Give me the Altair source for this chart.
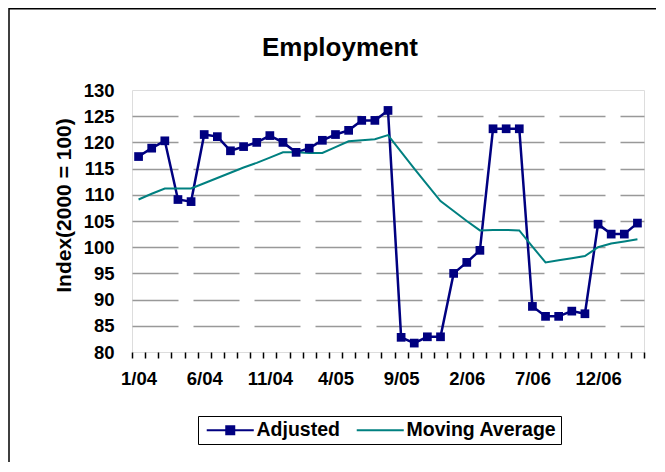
import altair as alt
import pandas as pd

FONT = "Liberation Sans"

chart_title = "Employment"
y_title = "Index(2000 = 100)"
months = ["1/04", "2/04", "3/04", "4/04", "5/04", "6/04", "7/04", "8/04", "9/04", "10/04", "11/04", "12/04",
          "1/05", "2/05", "3/05", "4/05", "5/05", "6/05", "7/05", "8/05", "9/05", "10/05", "11/05", "12/05",
          "1/06", "2/06", "3/06", "4/06", "5/06", "6/06", "7/06", "8/06", "9/06", "10/06", "11/06", "12/06",
          "1/07", "2/07", "3/07"]
shown_labels = ["1/04", "6/04", "11/04", "4/05", "9/05", "2/06", "7/06", "12/06"]

adjusted = [117.3, 118.9, 120.3, 109.1, 108.7, 121.5, 121.1, 118.4, 119.2, 120.0,
            121.3, 120.0, 118.1, 118.9, 120.4, 121.5, 122.3, 124.2, 124.2, 126.1,
            82.8, 81.7, 82.9, 82.9, 95.0, 97.1, 99.4, 122.6, 122.6, 122.6,
            88.7, 86.8, 86.8, 87.8, 87.3, 104.4, 102.5, 102.5, 104.6]
moving_avg = [109.1, 110.2, 111.2, 111.2, 111.2, 112.2, 113.2, 114.2, 115.2, 116.1,
              117.1, 118.1, 118.1, 118.0, 118.0, 119.1, 120.2, 120.4, 120.6, 121.4,
              118.2, 115.0, 111.9, 108.8, 106.9, 105.0, 103.2, 103.3, 103.3, 103.2,
              100.1, 97.1, 97.5, 97.9, 98.3, 100.0, 100.7, 101.1, 101.5]
series_names = ["Adjusted", "Moving Average"]
series_colors = ["#000080", "#008080"]
y_ticks = [80, 85, 90, 95, 100, 105, 110, 115, 120, 125, 130]

df = pd.DataFrame({
    "month": months * 2,
    "series": [series_names[0]] * len(months) + [series_names[1]] * len(months),
    "value": adjusted + moving_avg,
})

label_list = "[" + ",".join("'%s'" % s for s in shown_labels) + "]"

x_enc = alt.X(
    "month:O", sort=months,
    scale=alt.Scale(paddingInner=0, paddingOuter=0),
    axis=alt.Axis(
        title=None, labelAngle=0, labelOverlap=False,
        labelExpr="indexof(%s, datum.value) >= 0 ? datum.value : ''" % label_list,
        tickBand="extent", tickSize=6, tickColor="black", tickWidth=1.5,
        labelFont=FONT, labelFontSize=18.5, labelFontWeight="bold", labelColor="black",
        labelPadding=11, domain=False, grid=False,
    ),
)
y_enc = alt.Y(
    "value:Q",
    scale=alt.Scale(domain=[80, 130], nice=False, zero=False),
    axis=alt.Axis(
        values=y_ticks, title=y_title,
        grid=True, gridDash=[46, 15], gridColor="#999999", gridWidth=1.5,
        gridOpacity={"condition": {"test": "datum.value == 80 || datum.value == 130", "value": 0}, "value": 1},
        tickSize=0, labelPadding=18, domain=False,
        labelFont=FONT, labelFontSize=18.5, labelFontWeight="bold", labelColor="black",
        titleFont=FONT, titleFontSize=21, titleFontWeight="bold", titleColor="black",
        titleAngle=270, titleAlign="center", titleBaseline="middle",
        titleX=-68, titleY=115,
    ),
)

base = alt.Chart(df)

frame = alt.Chart(pd.DataFrame({"k": [0]})).mark_rect(
    fill="transparent", stroke="black", strokeWidth=1.5, clip=False
).encode(
    x=alt.value(-123), x2=alt.value(700), y=alt.value(-81.3), y2=alt.value(500)
)

title_text = alt.Chart(pd.DataFrame({"t": [chart_title]})).mark_text(
    font=FONT, fontSize=26, fontWeight="bold", color="black",
    align="center", baseline="alphabetic",
).encode(text="t:N", x=alt.value(208), y=alt.value(-34))

adj_line = base.transform_filter(alt.datum.series == "Adjusted").mark_line(
    color=series_colors[0], strokeWidth=2.5
).encode(x=x_enc, y=y_enc)

ma_line = base.transform_filter(alt.datum.series == "Moving Average").mark_line(
    color=series_colors[1], strokeWidth=2
).encode(x=x_enc, y=y_enc)

adj_pts = base.transform_filter(alt.datum.series == "Adjusted").mark_square(
    color=series_colors[0], size=76, opacity=1, filled=True
).encode(x=x_enc, y=y_enc)

leg = alt.Legend(
    title=None, orient="none", legendX=66, legendY=326, direction="horizontal",
    strokeColor="black", fillColor="white", padding=4,
    symbolSize=256, symbolStrokeWidth=2, symbolOpacity=1, symbolOffset=18.5,
    labelFont=FONT, labelFontSize=19.5, labelFontWeight="bold", labelColor="black",
    labelOffset=16.5, columnPadding=12,
)
scale_kw = dict(domain=series_names, range=series_colors)
shape_paths = [
    "M-2.94,0L2.94,0M-0.5,-0.5L0.5,-0.5L0.5,0.5L-0.5,0.5Z",
    "M-2.94,0L2.94,0",
]
legend_carrier = base.mark_point(opacity=0, filled=True).encode(
    x=x_enc, y=y_enc,
    fill=alt.Fill("series:N", scale=alt.Scale(**scale_kw), legend=leg),
    stroke=alt.Stroke("series:N", scale=alt.Scale(**scale_kw), legend=leg),
    shape=alt.Shape("series:N", scale=alt.Scale(domain=series_names, range=shape_paths), legend=leg),
)

chart = alt.layer(frame, title_text, adj_line, ma_line, adj_pts, legend_carrier).properties(
    width=512, height=262,
    autosize=alt.AutoSizeParams(type="none"),
    padding={"left": 124, "top": 82, "right": 12, "bottom": 110},
).configure_view(
    stroke="black", strokeWidth=3
).configure(background="white")

chart.save("out.html", embed_options={"renderer": "svg", "actions": False})
